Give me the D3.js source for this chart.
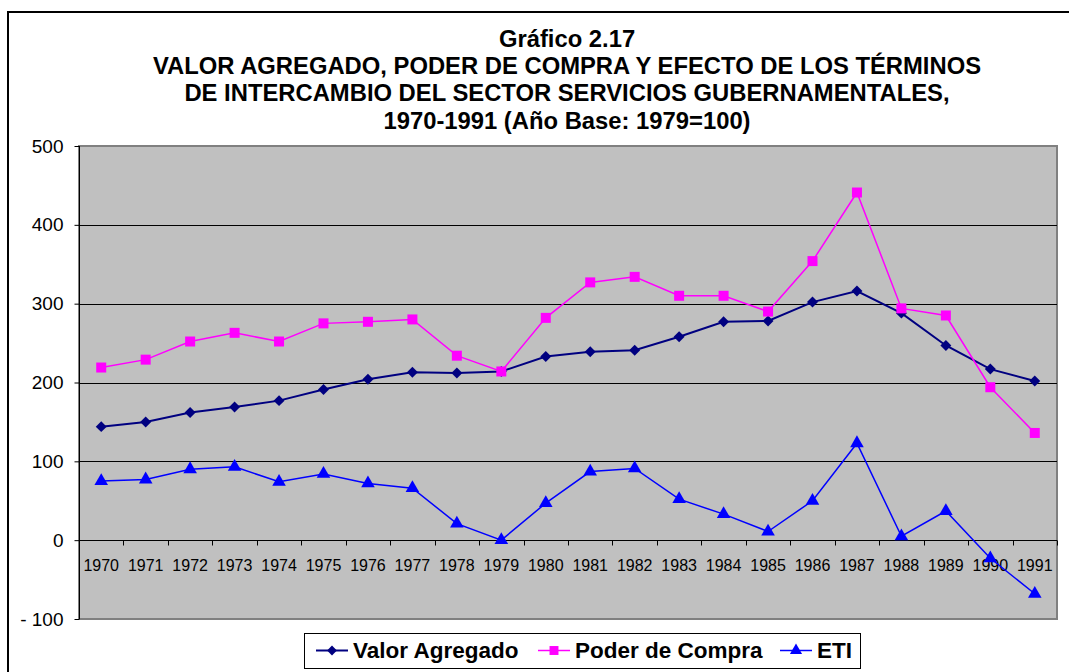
<!DOCTYPE html>
<html>
<head>
<meta charset="utf-8">
<script src="https://cdn.jsdelivr.net/npm/d3@7"></script>
<style>
    body { margin: 0; background: #fff; }
    text { font-family: "Liberation Sans", Arial, sans-serif; }
</style>
</head>
<body>
<div id="chart"></div>
<script>
// years on the category axis
var years = ["1970", "1971", "1972", "1973", "1974", "1975", "1976", "1977", "1978", "1979", "1980",
    "1981", "1982", "1983", "1984", "1985", "1986", "1987", "1988", "1989", "1990", "1991"];

// series (1979 = 100)
var valorAgregado = [144, 150, 162, 169, 177, 191, 204, 213, 212, 214, 233,
    239, 241, 258, 277, 278, 302, 316, 288, 247, 217, 202];
var poderCompra = [219, 229, 252, 263, 252, 275, 277, 280, 234, 214, 282,
    327, 334, 310, 310, 290, 354, 441, 294, 285, 194, 136];
var eti = [75, 77, 90, 93, 74, 84, 72, 66, 21, 0, 47,
    87, 91, 52, 33, 11, 50, 123, 5, 37, -23, -68];

var yTicks = [-100, 0, 100, 200, 300, 400, 500];

var titleLines = [
    "Gráfico 2.17",
    "VALOR AGREGADO, PODER DE COMPRA Y EFECTO DE LOS TÉRMINOS",
    "DE INTERCAMBIO DEL SECTOR SERVICIOS GUBERNAMENTALES,",
    "1970-1991 (Año Base: 1979=100)"
];

var width = 1069,
    height = 672,
    plot = { left: 79, right: 1057, top: 146, bottom: 619 };

// square diamond, like the spreadsheet marker
var diamond = {
    draw: function(context, size) {
        var r = Math.sqrt(size / 2);
        context.moveTo(0, -r);
        context.lineTo(r, 0);
        context.lineTo(0, r);
        context.lineTo(-r, 0);
        context.closePath();
    }
};

var series = [
    { name: "Valor Agregado", values: valorAgregado, color: "#000080", symbol: diamond, size: 60, lw: 2 },
    { name: "Poder de Compra", values: poderCompra, color: "#FF00FF", symbol: d3.symbolSquare, size: 100, lw: 1.5 },
    { name: "ETI", values: eti, color: "#0000FF", symbol: d3.symbolTriangle, size: 80, lw: 1.5 }
];

var svg = d3.select("#chart").append("svg")
    .attr("width", width)
    .attr("height", height);

svg.append("rect")
    .attr("width", width)
    .attr("height", height)
    .attr("fill", "#fff");

// outer chart frame
svg.append("rect")
    .attr("x", 8)
    .attr("y", 12)
    .attr("width", width + 10)
    .attr("height", height + 10)
    .attr("fill", "none")
    .attr("stroke", "#000")
    .attr("stroke-width", 2);

// title
svg.append("g").selectAll("text")
    .data(titleLines)
    .enter()
    .append("text")
    .attr("x", 567)
    .attr("y", function(d, i) { return 47 + i * 27.2; })
    .attr("text-anchor", "middle")
    .attr("font-size", "23.8px")
    .attr("font-weight", "bold")
    .attr("fill", "#000")
    .text(function(d) { return d; });

var x = d3.scaleBand()
    .domain(years)
    .range([plot.left, plot.right])
    .padding(0);

var y = d3.scaleLinear()
    .domain([-100, 500])
    .range([plot.bottom, plot.top]);

// plot area
svg.append("rect")
    .attr("x", plot.left)
    .attr("y", plot.top)
    .attr("width", plot.right - plot.left)
    .attr("height", plot.bottom - plot.top)
    .attr("fill", "#C0C0C0")
    .attr("stroke", "#808080")
    .attr("stroke-width", 2);

// gridlines
svg.append("g").selectAll("line")
    .data(yTicks.filter(function(d) { return d > -100 && d < 500; }))
    .enter()
    .append("line")
    .attr("x1", plot.left)
    .attr("x2", plot.right)
    .attr("y1", function(d) { return Math.round(y(d)) + 0.5; })
    .attr("y2", function(d) { return Math.round(y(d)) + 0.5; })
    .attr("stroke", "#000")
    .attr("stroke-width", 1);

// y axis
var yAxis = d3.axisLeft(y)
    .tickValues(yTicks)
    .tickSize(5)
    .tickPadding(11)
    .tickFormat(function(d) { return d < 0 ? "- " + Math.abs(d) : d; });

var gy = svg.append("g")
    .attr("transform", "translate(" + (plot.left + 0.5) + ",0)")
    .call(yAxis);
gy.select(".domain").attr("stroke", "#000").attr("d", "M0," + plot.top + "V" + plot.bottom);
gy.selectAll(".tick line").attr("stroke", "#000");
gy.selectAll(".tick text")
    .attr("font-family", "'Liberation Sans', Arial, sans-serif")
    .attr("font-size", "19px")
    .attr("fill", "#000");

// category axis on the zero line
var gx = svg.append("g")
    .attr("transform", "translate(0," + (Math.round(y(0)) + 0.5) + ")");
gx.append("line")
    .attr("x1", plot.left)
    .attr("x2", plot.right)
    .attr("stroke", "#000");
gx.selectAll(".tk")
    .data(years)
    .enter()
    .append("line")
    .attr("class", "tk")
    .attr("x1", function(d) { return Math.round(x(d) + x.bandwidth()) + 0.5; })
    .attr("x2", function(d) { return Math.round(x(d) + x.bandwidth()) + 0.5; })
    .attr("y1", 0)
    .attr("y2", 5)
    .attr("stroke", "#000");
gx.selectAll("text")
    .data(years)
    .enter()
    .append("text")
    .attr("x", function(d) { return x(d) + x.bandwidth() / 2; })
    .attr("y", 30)
    .attr("text-anchor", "middle")
    .attr("font-size", "16px")
    .attr("fill", "#000")
    .text(function(d) { return d; });

// lines and markers
var line = d3.line()
    .x(function(d, i) { return x(years[i]) + x.bandwidth() / 2; })
    .y(function(d) { return y(d); });

series.forEach(function(s) {
    svg.append("path")
        .datum(s.values)
        .attr("d", line)
        .attr("fill", "none")
        .attr("stroke", s.color)
        .attr("stroke-width", s.lw);

    svg.append("g").selectAll("path")
        .data(s.values)
        .enter()
        .append("path")
        .attr("transform", function(d, i) {
            return "translate(" + (x(years[i]) + x.bandwidth() / 2) + "," + y(d) + ")";
        })
        .attr("d", d3.symbol().type(s.symbol).size(s.size))
        .attr("fill", s.color);
});

// legend
var legend = svg.append("g");
legend.append("rect")
    .attr("x", 304.5)
    .attr("y", 633.5)
    .attr("width", 556)
    .attr("height", 35)
    .attr("fill", "#fff")
    .attr("stroke", "#000")
    .attr("stroke-width", 1);

var legendX = [316, 538, 780];
series.forEach(function(s, i) {
    var lx = legendX[i];
    legend.append("line")
        .attr("x1", lx)
        .attr("x2", lx + 32)
        .attr("y1", 650.5)
        .attr("y2", 650.5)
        .attr("stroke", s.color)
        .attr("stroke-width", s.lw);
    legend.append("path")
        .attr("transform", "translate(" + (lx + 16) + ",650.5)")
        .attr("d", d3.symbol().type(s.symbol).size(s.size * 0.8))
        .attr("fill", s.color);
    legend.append("text")
        .attr("x", lx + 37)
        .attr("y", 658)
        .attr("font-size", "22.5px")
        .attr("font-weight", "bold")
        .attr("fill", "#000")
        .text(s.name);
});
</script>
</body>
</html>
